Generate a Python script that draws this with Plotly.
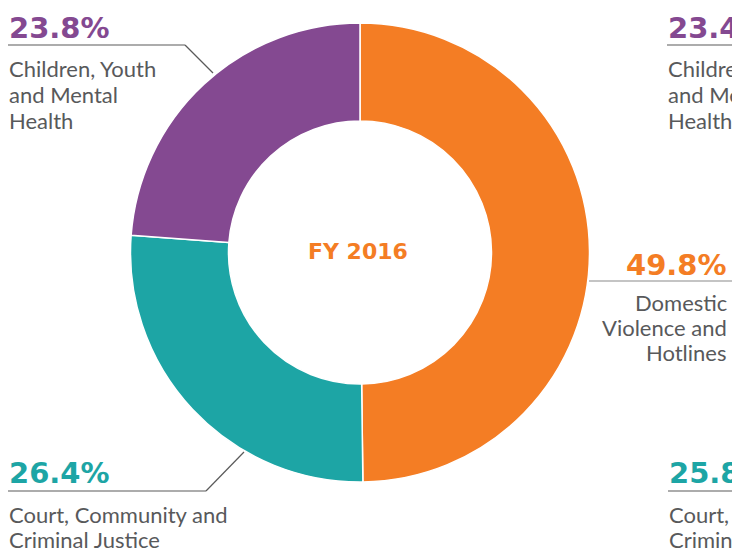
import plotly.graph_objects as go

W, H = 732, 549

# Data
categories = ["Domestic Violence and Hotlines", "Court, Community and Criminal Justice", "Children, Youth and Mental Health"]
values = [49.8, 26.4, 23.8]
colors = ["#F47D24", "#1DA5A5", "#844991"]
center_title = "FY 2016"

# Neighbouring (cropped) FY 2017 labels, partially visible at right edge
right_pcts = ["23.4%", "25.8%"]
right_labels = [["Children, Youth", "and Mental", "Health"], ["Court, Community and", "Criminal Justice"]]

TEXT = "#58595B"
LINE = "#5a5a5a"
FONT = "Lato"
BOLD_FONT = "DejaVu Sans"

def px(x):
    return x / W

def py(y):
    return 1 - y / H

cx, cy, r = 360, 252.5, 229.5

fig = go.Figure(go.Pie(
    labels=categories,
    values=values,
    marker=dict(colors=colors, line=dict(color="white", width=1.5)),
    hole=0.573,
    sort=False,
    direction="clockwise",
    rotation=0,
    textinfo="none",
    hoverinfo="label+percent",
    showlegend=False,
    domain=dict(x=[px(cx - r), px(cx + r)], y=[py(cy + r), py(cy - r)]),
))

ann = []

def add_text(x, y, text, size, color, anchor="left", bold=False):
    ann.append(dict(
        x=px(x), y=py(y), xref="paper", yref="paper",
        text=f"<b>{text}</b>" if bold else text,
        showarrow=False, xanchor=anchor, yanchor="middle",
        font=dict(family=BOLD_FONT if bold else FONT, size=size, color=color),
        borderpad=0,
    ))

LBL = 22
PCT = 29

# Center title
add_text(358, 251, center_title, 22, colors[0], anchor="center", bold=True)

# Left top: Children, Youth and Mental Health
add_text(8, 28, f"{values[2]}%", PCT, colors[2], bold=True)
for i, line in enumerate(["Children, Youth", "and Mental", "Health"]):
    add_text(8, 68 + 26 * i, line, LBL, TEXT)

# Right middle: Domestic Violence and Hotlines
add_text(728, 265, f"{values[0]}%", PCT, colors[0], anchor="right", bold=True)
for i, line in enumerate(["Domestic", "Violence and", "Hotlines"]):
    add_text(728, 302 + 25 * i, line, LBL, TEXT, anchor="right")

# Bottom left: Court, Community and Criminal Justice
add_text(8, 473, f"{values[1]}%", PCT, colors[1], bold=True)
for i, line in enumerate(["Court, Community and", "Criminal Justice"]):
    add_text(8, 514.5 + 25 * i, line, LBL, TEXT)

# Right edge (cropped neighbour chart)
add_text(667, 28, right_pcts[0], PCT, colors[2], bold=True)
for i, line in enumerate(right_labels[0]):
    add_text(667, 68 + 26 * i, line, LBL, TEXT)
add_text(668, 473, right_pcts[1], PCT, colors[1], bold=True)
for i, line in enumerate(right_labels[1]):
    add_text(668, 514.5 + 25 * i, line, LBL, TEXT)

shapes = []

def seg(x0, y0, x1, y1, color=LINE):
    shapes.append(dict(type="line", xref="paper", yref="paper",
                       x0=px(x0), y0=py(y0), x1=px(x1), y1=py(y1),
                       line=dict(color=color, width=1.2)))

seg(8, 45, 185, 45)
seg(185, 45, 213, 73)
seg(667, 45, 740, 45)
seg(589, 281, 740, 281, "#8a8a8a")
seg(8, 491, 206, 491)
seg(206, 491, 244, 452)
seg(668, 491, 740, 491)

fig.update_layout(
    width=W, height=H,
    margin=dict(l=0, r=0, t=0, b=0),
    paper_bgcolor="white", plot_bgcolor="white",
    annotations=ann, shapes=shapes,
)

fig.write_html("out.html", config={"displayModeBar": False},
               post_script="document.body.style.margin='0';document.body.style.padding='0';")
